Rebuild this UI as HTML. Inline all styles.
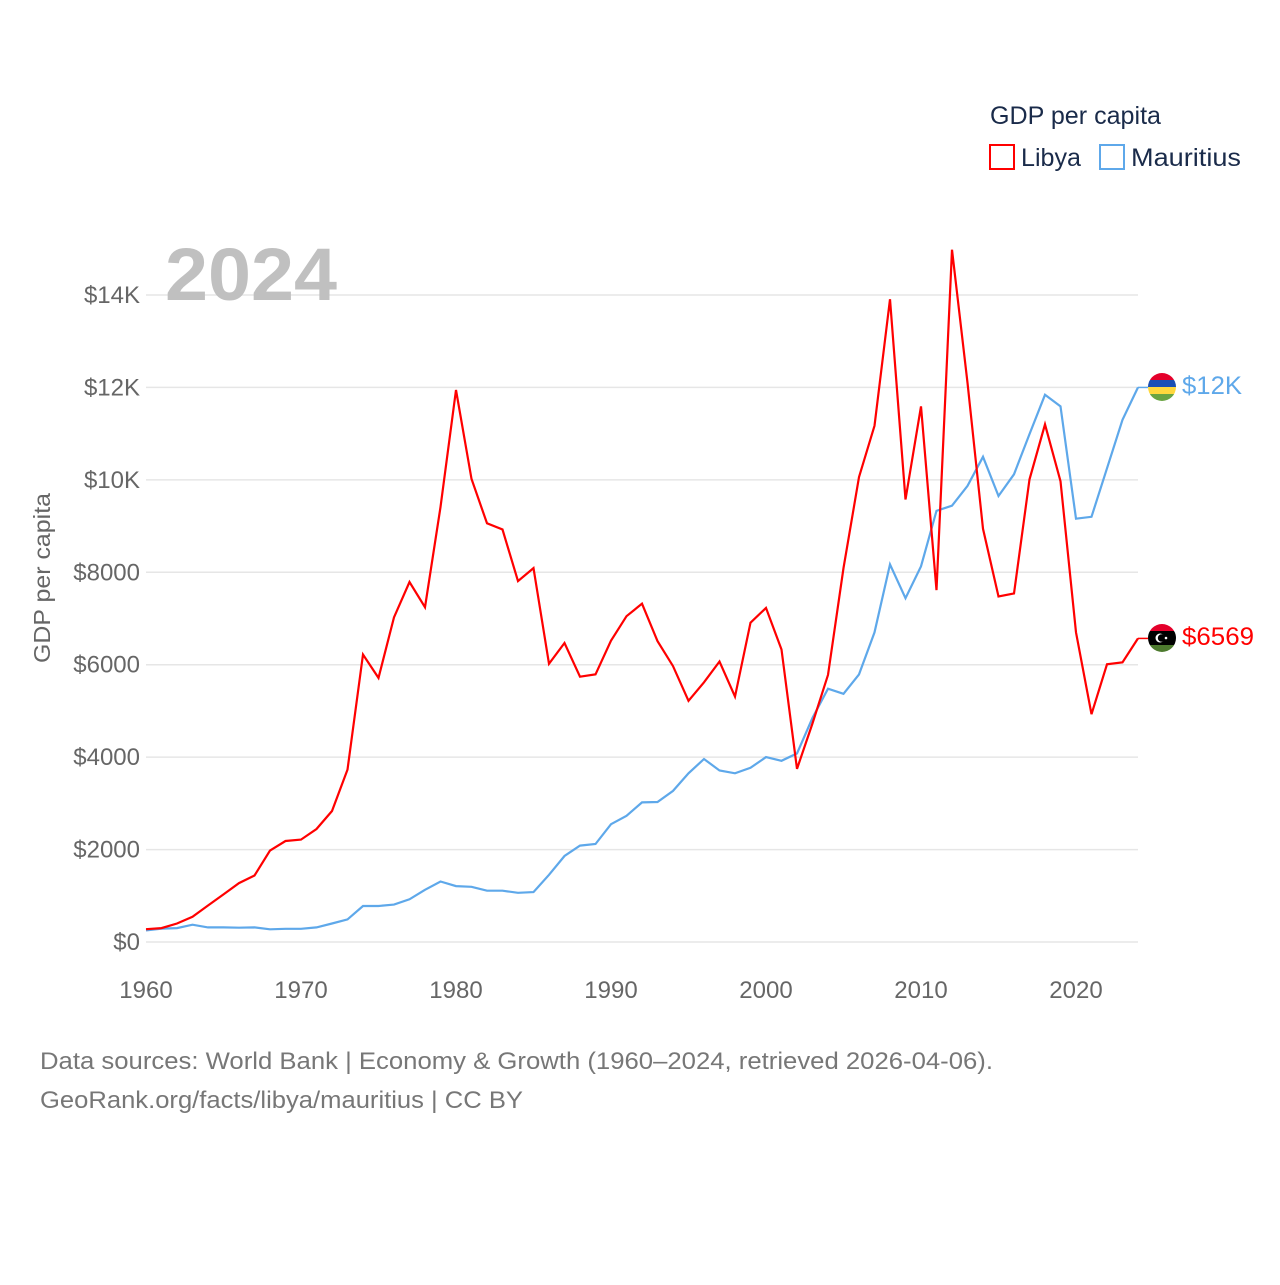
<!DOCTYPE html>
<html><head><meta charset="utf-8"><style>
html,body{margin:0;padding:0;background:#fff;}
svg text{font-family:"Liberation Sans",sans-serif;}
</style></head><body>
<svg id="chart" width="1280" height="1280" viewBox="0 0 1280 1280" xmlns="http://www.w3.org/2000/svg">
  <g id="grid"></g>
  <g id="yticks"></g>
  <g id="xticks"></g>
  <text x="165" y="300" font-size="74" font-weight="bold" fill="#c0c0c0" textLength="172" lengthAdjust="spacingAndGlyphs">2024</text>
  <text transform="translate(50,578) rotate(-90)" text-anchor="middle" font-size="23" fill="#666" textLength="170" lengthAdjust="spacingAndGlyphs">GDP per capita</text>
  <g id="series"></g>
  <g>
    <text x="990" y="124" font-size="25" fill="#1a2b4a" textLength="171" lengthAdjust="spacingAndGlyphs">GDP per capita</text>
    <rect x="990" y="145" width="24" height="24" fill="none" stroke="#ff0000" stroke-width="2"/>
    <text x="1021" y="166" font-size="25" fill="#1a2b4a" textLength="60" lengthAdjust="spacingAndGlyphs">Libya</text>
    <rect x="1100" y="145" width="24" height="24" fill="none" stroke="#5ea8ea" stroke-width="2"/>
    <text x="1131" y="166" font-size="25" fill="#1a2b4a" textLength="110" lengthAdjust="spacingAndGlyphs">Mauritius</text>
  </g>
  <defs>
    <clipPath id="cm"><circle cx="1162" cy="387" r="14"/></clipPath>
    <clipPath id="cl"><circle cx="1162" cy="638" r="14"/></clipPath>
  </defs>
  <g clip-path="url(#cm)">
    <rect x="1148" y="373" width="28" height="7" fill="#e4002b"/>
    <rect x="1148" y="380" width="28" height="7" fill="#1a4fb5"/>
    <rect x="1148" y="387" width="28" height="7" fill="#ffd83d"/>
    <rect x="1148" y="394" width="28" height="7" fill="#6aa442"/>
  </g>
  <g clip-path="url(#cl)">
    <rect x="1148" y="624" width="28" height="7" fill="#e4002b"/>
    <rect x="1148" y="631" width="28" height="14" fill="#000"/>
    <rect x="1148" y="645" width="28" height="7" fill="#4d7a2e"/>
    <circle cx="1160" cy="638" r="4.5" fill="#fff"/>
    <circle cx="1161.5" cy="638" r="3.7" fill="#000"/>
    <circle cx="1166" cy="638" r="1.3" fill="#fff"/>
  </g>
  <text x="1182" y="394" font-size="25" fill="#5ea8ea" textLength="60" lengthAdjust="spacingAndGlyphs">$12K</text>
  <text x="1182" y="645" font-size="25" fill="#ff0000" textLength="72" lengthAdjust="spacingAndGlyphs">$6569</text>
  <text x="40" y="1069" font-size="24" fill="#777" textLength="953" lengthAdjust="spacingAndGlyphs">Data sources: World Bank | Economy &amp; Growth (1960–2024, retrieved 2026-04-06).</text>
  <text x="40" y="1108" font-size="24" fill="#777" textLength="483" lengthAdjust="spacingAndGlyphs">GeoRank.org/facts/libya/mauritius | CC BY</text>
</svg>
<script>
const years = [];
for (let y = 1960; y <= 2024; y++) years.push(y);
const libya = [276,300,400,545,790,1030,1275,1440,1980,2185,2215,2445,2835,3730,6220,5715,7025,7790,7245,9410,11945,10020,9060,8925,7810,8090,6020,6470,5740,5790,6520,7050,7320,6510,5970,5220,5620,6070,5310,6910,7230,6330,3745,4730,5780,8090,10060,11170,13910,9575,11590,7615,14980,12100,8940,7475,7540,10010,11200,9970,6700,4930,6010,6050,6569];
const mauritius = [250,290,300,375,315,315,310,315,275,285,285,315,400,490,780,780,810,925,1130,1310,1210,1195,1110,1110,1065,1080,1455,1860,2085,2120,2550,2730,3020,3030,3270,3650,3960,3710,3650,3770,4000,3920,4080,4850,5480,5370,5790,6700,8170,7440,8130,9330,9440,9870,10500,9650,10120,10990,11840,11590,9160,9200,10250,11300,12000];
const yTickValues = [0,2000,4000,6000,8000,10000,12000,14000];
const yTickLabels = ["$0","$2000","$4000","$6000","$8000","$10K","$12K","$14K"];
const xTickValues = [1960,1970,1980,1990,2000,2010,2020];

const NS = "http://www.w3.org/2000/svg";
const X0 = 146, X1 = 1138, Y0 = 942, Y14 = 295;
function xs(yr){ return X0 + (yr - 1960) * (X1 - X0) / 64; }
function ys(v){ return Y0 - v * (Y0 - Y14) / 14000; }
function mk(tag, attrs, parent){ const e = document.createElementNS(NS, tag); for (const k in attrs) e.setAttribute(k, attrs[k]); parent.appendChild(e); return e; }

const grid = document.getElementById('grid');
const yt = document.getElementById('yticks');
yTickValues.forEach((v,i)=>{
  const l = mk('line',{x1:X0,x2:X1,y1:ys(v),y2:ys(v),stroke:'#e6e6e6','stroke-width':1.5},grid);
  
  
  const t = mk('text',{x:140,y:ys(v)+8,'text-anchor':'end','font-size':24,fill:'#666'},yt);
  
  
  t.textContent = yTickLabels[i];
});
const xt = document.getElementById('xticks');
xTickValues.forEach(v=>{
  const t = mk('text',{x:xs(v),y:998,'text-anchor':'middle','font-size':24,fill:'#666'},xt);
  
  
  t.textContent = v;
});
const sg = document.getElementById('series');
function drawLine(vals, color, name){
  const pts = vals.map((v,i)=>xs(years[i]).toFixed(1)+','+ys(v).toFixed(1)).join(' ');
  const p = mk('polyline',{points:pts,fill:'none',stroke:color,'stroke-width':2.2,'stroke-linejoin':'miter'},sg);
  
  
  const last = vals[vals.length-1];
  const c = mk('line',{x1:xs(2024),y1:ys(last),x2:1148,y2:ys(last),stroke:color,'stroke-width':1.5},sg);
  
  
}
drawLine(mauritius,'#5ea8ea','mauritius-line');
drawLine(libya,'#ff0000','libya-line');
</script>
</body></html>
